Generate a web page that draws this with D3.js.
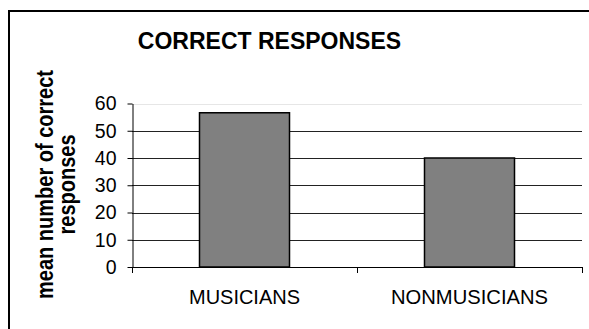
<!DOCTYPE html>
<html>
<head>
<meta charset="utf-8">
<script src="https://d3js.org/d3.v7.min.js"></script>
<style>
html,body{margin:0;padding:0;background:#fff;}
svg{display:block;}
text{font-family:"Liberation Sans", Arial, sans-serif;fill:#000;}
</style>
</head>
<body>
<svg id="chart" width="589" height="329"></svg>
<script>
const categories = ["MUSICIANS", "NONMUSICIANS"];
const values = [56.6, 40];
const yTicks = [0, 10, 20, 30, 40, 50, 60];
const title = "CORRECT RESPONSES";
const yTitleLines = ["mean number of correct", "responses"];

(function () {
const svg = d3.select("#chart");
const W = 589, H = 329;
const pLeft = 132, pRight = 582, pTop = 103.5, pBottom = 267;

svg.append("rect").attr("width", W).attr("height", H).attr("fill", "#fff");
// outer frame (extends past viewport on right/bottom)
svg.append("rect").attr("x", 9).attr("y", 11).attr("width", 640).attr("height", 400)
  .attr("fill", "none").attr("stroke", "#000").attr("stroke-width", 2);

const x = d3.scaleBand().domain(categories).range([pLeft, pRight]).padding(0);
const y = d3.scaleLinear().domain([0, 60]).range([pBottom, pTop]);

// gridlines
svg.append("g").selectAll("line").data(yTicks.filter(d => d > 0)).join("line")
  .attr("x1", pLeft).attr("x2", pRight)
  .attr("y1", d => Math.round(y(d)) + 0.5).attr("y2", d => Math.round(y(d)) + 0.5)
  .attr("stroke", d => d === 60 ? "#e6e6e6" : "#222")
  .attr("stroke-width", 1);

// bars
const bw = x.bandwidth() * 0.4;
svg.append("g").selectAll("rect").data(categories).join("rect")
  .attr("x", d => x(d) + (x.bandwidth() - bw) / 2)
  .attr("width", bw)
  .attr("y", (d, i) => y(values[i]))
  .attr("height", (d, i) => y(0) - y(values[i]))
  .attr("fill", "#808080").attr("stroke", "#000").attr("stroke-width", 1.5);

// y axis
const yAxis = d3.axisLeft(y).tickValues(yTicks).tickSize(5).tickPadding(11).tickSizeOuter(0);
const gy = svg.append("g").attr("transform", `translate(${pLeft + 0.5},0)`).call(yAxis);
gy.select(".domain").attr("stroke", "#000");
gy.selectAll(".tick line").attr("stroke", "#000");
gy.selectAll("text").style("font-size", "19.5px").attr("fill", "#000")
  .style("font-family", '"Liberation Sans", Arial, sans-serif');

// x axis with ticks at category boundaries
svg.append("line").attr("x1", pLeft).attr("x2", pRight + 0.5)
  .attr("y1", Math.round(pBottom) + 0.5).attr("y2", Math.round(pBottom) + 0.5)
  .attr("stroke", "#000");
const bounds = categories.map(c => x(c)).concat([pRight]);
svg.append("g").selectAll("line").data(bounds).join("line")
  .attr("x1", d => Math.round(d) + 0.5).attr("x2", d => Math.round(d) + 0.5)
  .attr("y1", pBottom).attr("y2", pBottom + 6).attr("stroke", "#000");

svg.append("g").selectAll("text").data(categories).join("text")
  .attr("x", d => x(d) + x.bandwidth() / 2)
  .attr("y", 303.5)
  .attr("text-anchor", "middle")
  .style("font-size", "19.5px")
  .attr("textLength", (d, i) => i === 0 ? 111 : 157)
  .attr("lengthAdjust", "spacingAndGlyphs")
  .text(d => d);

// title
svg.append("text").attr("x", 269.5).attr("y", 49)
  .attr("text-anchor", "middle")
  .style("font-size", "23px").style("font-weight", "bold")
  .text(title);

// y title (slightly widened horizontally like the reference)
const yt = svg.append("text").attr("transform", "translate(53,184.5) rotate(-90) scale(1,1.15)")
  .attr("text-anchor", "middle")
  .style("font-size", "20px").style("font-weight", "bold");
yTitleLines.forEach((l, i) => {
  yt.append("tspan").attr("x", 0).attr("y", i * 22 / 1.15).text(l);
});
})();
</script>
</body>
</html>
